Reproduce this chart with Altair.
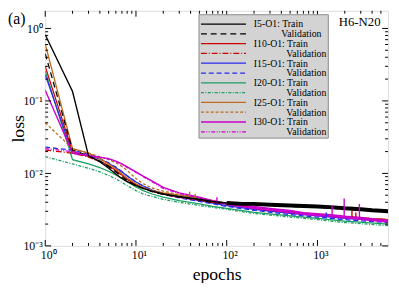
import altair as alt
import pandas as pd

FONT = "Liberation Serif"

# ---------------- data ----------------
SERIES = ["I5-O1 Train", "I5-O1 Validation", "I10-O1 Train", "I10-O1 Validation",
          "I15-O1 Train", "I15-O1 Validation", "I20-O1 Train", "I20-O1 Validation",
          "I25-O1 Train", "I25-O1 Validation", "I30-O1 Train", "I30-O1 Validation"]
LEGEND_TEXT = ["I5-O1: Train", "Validation", "I10-O1: Train", "Validation",
               "I15-O1: Train", "Validation", "I20-O1: Train", "Validation",
               "I25-O1: Train", "Validation", "I30-O1: Train", "Validation"]
COLORS = ["#000000", "#000000", "#cc0000", "#cc0000", "#2a2aee", "#2a2aee",
          "#1a9e60", "#1a9e60", "#c06a1a", "#c06a1a", "#cc00cc", "#cc00cc"]
DASHES = [None, [6, 4], None, [6, 2, 1, 2], None, [5, 3],
          None, [3, 1.5, 1, 1.5], None, [3, 2], None, [4, 1.5, 1, 1.5, 1, 1.5]]

HEAD_EPOCHS = [1, 2, 3, 4, 5, 6, 7, 8, 10, 12, 15, 20, 30, 50, 70, 100]
I5_TRAIN = [0.82, 0.135, 0.0175, 0.0145, 0.0118, 0.0098, 0.0085, 0.0077, 0.0068, 0.0062, 0.0057, 0.0052, 0.0048, 0.0044, 0.0041, 0.0039]
I5_VAL = [0.45, 0.021, 0.0175, 0.0148, 0.0125, 0.0105, 0.009, 0.008, 0.0068, 0.0062, 0.0056, 0.0051, 0.0047, 0.0043, 0.0040, 0.0038]
I10_TRAIN = [0.30, 0.020, 0.0172, 0.0148, 0.0128, 0.011, 0.0095, 0.0083, 0.007, 0.0063, 0.0057, 0.0052, 0.0047, 0.0043, 0.0040, 0.0038]
I10_VAL = [0.021, 0.019, 0.0168, 0.0145, 0.0125, 0.0108, 0.0094, 0.0083, 0.007, 0.0063, 0.0057, 0.0052, 0.0047, 0.0043, 0.0040, 0.0038]
I15_TRAIN = [0.23, 0.019, 0.0175, 0.0158, 0.0138, 0.012, 0.0105, 0.0092, 0.0076, 0.0067, 0.0059, 0.0053, 0.0047, 0.0042, 0.0039, 0.0036]
I15_VAL = [0.023, 0.021, 0.0185, 0.016, 0.014, 0.0122, 0.0106, 0.0093, 0.0076, 0.0067, 0.0059, 0.0052, 0.0046, 0.0041, 0.0038, 0.0035]
I20_TRAIN = [0.26, 0.0155, 0.0135, 0.012, 0.0107, 0.0095, 0.0085, 0.0077, 0.0065, 0.0058, 0.0052, 0.0047, 0.0042, 0.0038, 0.0035, 0.0033]
I20_VAL = [0.017, 0.0135, 0.0118, 0.0105, 0.0094, 0.0084, 0.0075, 0.0068, 0.0058, 0.0052, 0.0048, 0.0044, 0.0040, 0.0036, 0.0034, 0.0032]
I25_TRAIN = [0.61, 0.022, 0.019, 0.016, 0.0135, 0.0115, 0.0098, 0.0086, 0.0072, 0.0064, 0.0058, 0.0054, 0.0050, 0.0046, 0.0042, 0.0039]
I25_VAL = [0.05, 0.022, 0.019, 0.017, 0.0155, 0.014, 0.0125, 0.011, 0.0085, 0.0072, 0.0063, 0.0057, 0.0051, 0.0046, 0.0042, 0.0039]
I30_TRAIN = [0.14, 0.019, 0.0175, 0.0168, 0.016, 0.0148, 0.0135, 0.0123, 0.0105, 0.0092, 0.0079, 0.0064, 0.0054, 0.0047, 0.0042, 0.0038]
I30_VAL = [0.022, 0.020, 0.018, 0.0168, 0.0158, 0.0146, 0.0133, 0.0121, 0.0103, 0.009, 0.0077, 0.0062, 0.0053, 0.0046, 0.0041, 0.0038]

# thin tails (after epoch 100)
TAIL_EPOCHS = [200, 500, 1000, 2000, 6000]
I5_VAL_TAIL = [0.0037, 0.0035, 0.0034, 0.0032, 0.0030]
I10_TRAIN_TAIL = [0.0033, 0.0029, 0.0027, 0.0025, 0.0023]
I10_VAL_TAIL = [0.0033, 0.0029, 0.0027, 0.0025, 0.0023]
I15_TRAIN_TAIL = [0.0032, 0.0028, 0.0026, 0.0024, 0.0022]
I15_VAL_TAIL = [0.0031, 0.0027, 0.0025, 0.0023, 0.0021]
I20_TRAIN_TAIL = [0.0029, 0.0026, 0.0024, 0.0022, 0.0020]
I20_VAL_TAIL = [0.0028, 0.0025, 0.0023, 0.0021, 0.0019]
I25_TRAIN_TAIL = [0.0034, 0.0030, 0.0027, 0.0025, 0.0023]
I25_VAL_TAIL = [0.0034, 0.0030, 0.0027, 0.0025, 0.0023]
I30_VAL_TAIL = [0.0033, 0.0029, 0.0027, 0.0025, 0.0022]

# noisy tails drawn as a thick band (centre line of the band)
BAND_EPOCHS = [100, 150, 200, 300, 500, 700, 1000, 1500, 2000, 3000, 4000, 6000]
I5_TRAIN_BAND = [0.0039, 0.0038, 0.0038, 0.0037, 0.0036, 0.00355, 0.0035, 0.0034, 0.0033, 0.0032, 0.0031, 0.0030]
I30_TRAIN_BAND = [0.0038, 0.0036, 0.0034, 0.0032, 0.0030, 0.0028, 0.0027, 0.0026, 0.0025, 0.0024, 0.0023, 0.0022]

# isolated spikes
SPIKE_SERIES = ["I30-O1 Train", "I30-O1 Train", "I30-O1 Train", "I30-O1 Train",
                "I10-O1 Validation", "I10-O1 Validation", "I15-O1 Validation", "I25-O1 Train", "I25-O1 Train"]
SPIKE_EPOCHS = [78, 1450, 1970, 2900, 2400, 2650, 1250, 39, 45]
SPIKE_BASE = [0.0041, 0.0026, 0.0025, 0.0024, 0.0025, 0.0025, 0.0025, 0.0049, 0.0047]
SPIKE_PEAK = [0.0047, 0.0036, 0.0045, 0.0038, 0.0031, 0.0029, 0.0029, 0.0056, 0.0052]

HEAD = dict(zip(SERIES, [I5_TRAIN, I5_VAL, I10_TRAIN, I10_VAL, I15_TRAIN, I15_VAL,
                         I20_TRAIN, I20_VAL, I25_TRAIN, I25_VAL, I30_TRAIN, I30_VAL]))
TAIL = {"I5-O1 Validation": I5_VAL_TAIL, "I10-O1 Train": I10_TRAIN_TAIL,
        "I10-O1 Validation": I10_VAL_TAIL, "I15-O1 Train": I15_TRAIN_TAIL,
        "I15-O1 Validation": I15_VAL_TAIL, "I20-O1 Train": I20_TRAIN_TAIL,
        "I20-O1 Validation": I20_VAL_TAIL, "I25-O1 Train": I25_TRAIN_TAIL,
        "I25-O1 Validation": I25_VAL_TAIL, "I30-O1 Validation": I30_VAL_TAIL}
BAND = {"I5-O1 Train": I5_TRAIN_BAND, "I30-O1 Train": I30_TRAIN_BAND}
BAND_WIDTH = {"I5-O1 Train": 4.0, "I30-O1 Train": 3.2}

X_TICK_VALUES = [1, 10, 100, 1000]
X_TICK_LABELS = ["10\u2070", "10\u00b9", "10\u00b2", "10\u00b3"]
X_MINOR = [2, 3, 4, 5, 6, 7, 8, 9, 20, 30, 40, 50, 60, 70, 80, 90,
           200, 300, 400, 500, 600, 700, 800, 900, 2000, 3000, 4000, 5000]
Y_TICK_VALUES = [0.001, 0.01, 0.1, 1]
Y_TICK_LABELS = ["10\u207b\u00b3", "10\u207b\u00b2", "10\u207b\u00b9", "10\u2070"]
Y_MINOR = [0.002, 0.003, 0.004, 0.005, 0.006, 0.007, 0.008, 0.009,
           0.02, 0.03, 0.04, 0.05, 0.06, 0.07, 0.08, 0.09,
           0.2, 0.3, 0.4, 0.5, 0.6, 0.7, 0.8, 0.9]

DRAW_ORDER = [7, 6, 5, 4, 3, 2, 9, 8, 1, 11, 10, 0]

# ---------------- chart ----------------
W, H = 350, 240


def label_expr(values, labels):
    expr = "''"
    for v, l in zip(reversed(values), reversed(labels)):
        expr = f"abs(datum.value - {v}) < {v} * 0.01 ? '{l}' : ({expr})"
    return expr


X_AXIS = alt.Axis(values=X_TICK_VALUES, labelExpr=label_expr(X_TICK_VALUES, X_TICK_LABELS),
                  ticks=False, domain=False, grid=False, title="epochs",
                  labelFont=FONT, labelFontSize=12, labelPadding=4, labelOffset=3,
                  labelColor="#000", labelFlush=False,
                  titleFont=FONT, titleFontSize=18, titleFontWeight="normal",
                  titleColor="#000", titlePadding=5)
Y_AXIS = alt.Axis(values=Y_TICK_VALUES, labelExpr=label_expr(Y_TICK_VALUES, Y_TICK_LABELS),
                  ticks=False, domain=False, grid=False, title="loss",
                  labelFont=FONT, labelFontSize=12, labelPadding=3,
                  labelColor="#000", labelFlush=False,
                  titleFont=FONT, titleFontSize=18, titleFontWeight="normal",
                  titleColor="#000", titleAngle=270, titleX=-22, titleY=120,
                  titleAlign="center", titleBaseline="alphabetic")
X_SCALE = alt.Scale(type="log", domain=[1, 6000], nice=False)
Y_SCALE = alt.Scale(type="log", domain=[0.001, 1.75], nice=False)


def xenc(field="epoch"):
    return alt.X(f"{field}:Q", scale=X_SCALE, axis=X_AXIS, title="epochs")


def yenc(field="loss"):
    return alt.Y(f"{field}:Q", scale=Y_SCALE, axis=Y_AXIS, title="loss")


def line_kw(i, width):
    kw = dict(color=COLORS[i], strokeWidth=width, clip=True)
    if DASHES[i]:
        kw["strokeDash"] = DASHES[i]
    return kw


layers = []
for i in DRAW_ORDER:
    name = SERIES[i]
    if name in BAND:
        thin = pd.DataFrame({"epoch": HEAD_EPOCHS, "loss": HEAD[name]})
        layers.append(alt.Chart(thin).mark_line(**line_kw(i, 1.4)).encode(x=xenc(), y=yenc()))
        band = pd.DataFrame({"epoch": BAND_EPOCHS, "loss": BAND[name]})
        layers.append(alt.Chart(band).mark_line(**line_kw(i, BAND_WIDTH[name])).encode(x=xenc(), y=yenc()))
    else:
        df = pd.DataFrame({"epoch": HEAD_EPOCHS + TAIL_EPOCHS, "loss": HEAD[name] + TAIL[name]})
        layers.append(alt.Chart(df).mark_line(**line_kw(i, 1.3)).encode(x=xenc(), y=yenc()))

spikes = pd.DataFrame({"series": SPIKE_SERIES, "epoch": SPIKE_EPOCHS,
                       "loss": SPIKE_BASE, "peak": SPIKE_PEAK})
layers.append(alt.Chart(spikes).mark_rule(strokeWidth=1.4).encode(
    x=xenc(), y=yenc(), y2="peak:Q",
    color=alt.Color("series:N", scale=alt.Scale(domain=SERIES, range=COLORS), legend=None)))

# inward ticks on all four sides
xt_major = pd.DataFrame({"epoch": X_TICK_VALUES})
xt_minor = pd.DataFrame({"epoch": X_MINOR})
yt_major = pd.DataFrame({"loss": Y_TICK_VALUES})
yt_minor = pd.DataFrame({"loss": Y_MINOR})
for df, ln in [(xt_major, 6), (xt_minor, 3)]:
    layers.append(alt.Chart(df).mark_rule(color="#000", strokeWidth=1).encode(
        x=xenc(), y=alt.value(H), y2=alt.value(H - ln)))
    layers.append(alt.Chart(df).mark_rule(color="#000", strokeWidth=1).encode(
        x=xenc(), y=alt.value(0), y2=alt.value(ln)))
for df, ln in [(yt_major, 6), (yt_minor, 3)]:
    layers.append(alt.Chart(df).mark_rule(color="#000", strokeWidth=1).encode(
        y=yenc(), x=alt.value(0), x2=alt.value(ln)))
    layers.append(alt.Chart(df).mark_rule(color="#000", strokeWidth=1).encode(
        y=yenc(), x=alt.value(W), x2=alt.value(W - ln)))

one = pd.DataFrame({"k": [0]})
# legend box
layers.append(alt.Chart(one).mark_rect(fill="#d3d3d3", stroke="#8a8a8a", strokeWidth=1).encode(
    x=alt.value(157), x2=alt.value(289), y=alt.value(4), y2=alt.value(130)))
for i in range(len(SERIES)):
    ry = 13.5 + 10 * i
    kw = dict(color=COLORS[i], strokeWidth=1.3)
    if DASHES[i]:
        kw["strokeDash"] = DASHES[i]
    layers.append(alt.Chart(one).mark_rule(**kw).encode(
        x=alt.value(159), x2=alt.value(205), y=alt.value(ry)))
    if i % 2 == 0:
        tx = 213
    else:
        tx = 241 if i == 1 else 246
    layers.append(alt.Chart(one).mark_text(align="left", baseline="middle", font=FONT,
                                           fontSize=10, color="#000").encode(
        x=alt.value(tx), y=alt.value(ry + 0.5), text=alt.value(LEGEND_TEXT[i])))

layers.append(alt.Chart(one).mark_text(align="center", baseline="middle", font=FONT,
                                       fontSize=13, color="#000").encode(
    x=alt.value(321), y=alt.value(12), text=alt.value("H6-N20")))
layers.append(alt.Chart(one).mark_text(align="left", baseline="top", font=FONT,
                                       fontSize=16, color="#000").encode(
    x=alt.value(-38), y=alt.value(0), text=alt.value("(a)")))

chart = alt.layer(*layers).properties(
    width=W, height=H,
    autosize=alt.AutoSizeParams(type="none"),
    padding={"left": 38, "top": 0, "right": 3, "bottom": 35},
).configure_view(stroke="#222", strokeWidth=2).configure(font=FONT)

chart.save("out.html", embed_options={"renderer": "svg", "actions": False})
